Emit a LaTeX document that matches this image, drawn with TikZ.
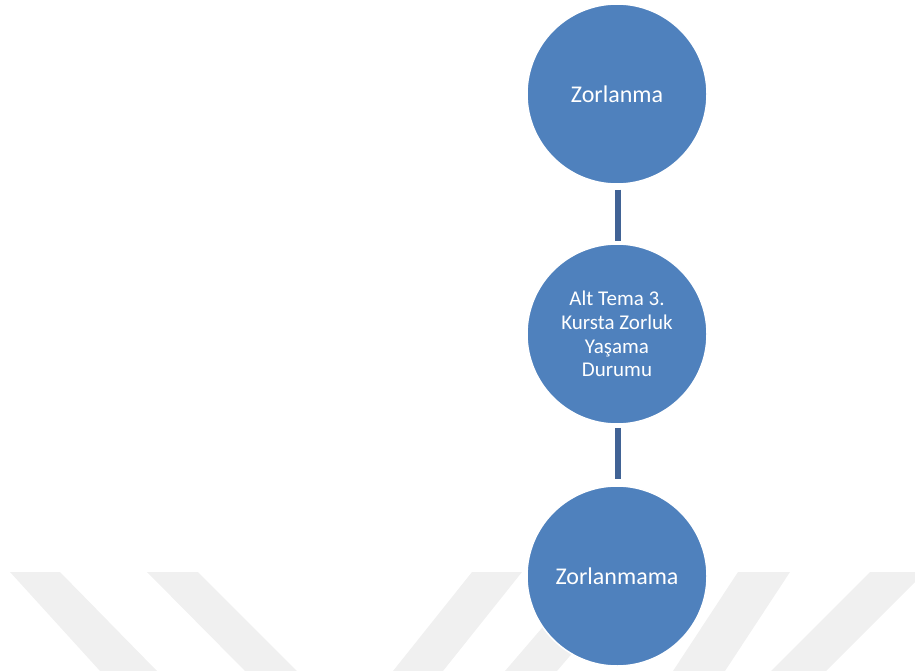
\documentclass[tikz,border=0pt]{standalone}
\usepackage{fontspec}
\setmainfont{Carlito}
\definecolor{cfill}{HTML}{4F81BD}
\definecolor{cline}{HTML}{416395}
\definecolor{wm}{HTML}{F0F0F0}
\begin{document}
\begin{tikzpicture}[x=1pt,y=-1pt,
  bubble/.style={circle,fill=cfill,draw=white,line width=1.5pt,minimum size=180pt,inner sep=0pt,text=white,align=center},
  conn/.style={draw=cline,line width=5.5pt},
  stripe/.style={fill=wm,draw=none}]
\useasboundingbox (0,0) rectangle (915,671);
% watermark stripes
\fill[stripe] (10,572) -- (60,572) -- (157,671) -- (100,671) -- cycle;
\fill[stripe] (147,572) -- (198,572) -- (297,671) -- (245,671) -- cycle;
\fill[stripe] (472,572) -- (522,572) -- (443,671) -- (393,671) -- cycle;
\fill[stripe] (590,572) -- (642,572) -- (557,671) -- (505,671) -- cycle;
\fill[stripe] (738,572) -- (790,572) -- (725,671) -- (673,671) -- cycle;
\fill[stripe] (870,572) -- (925,572) -- (826,671) -- (771,671) -- cycle;
% circles
\node[bubble,font=\fontsize{24}{26}\selectfont] (c1) at (617,94) {Zorlanma};
\node[bubble,font=\fontsize{21}{23.7}\selectfont] (c2) at (617,334) {Alt Tema 3.\\Kursta Zorluk\\Yaşama\\Durumu};
\node[bubble,font=\fontsize{24}{26}\selectfont] (c3) at (617,576) {Zorlanmama};
% connectors
\draw[conn,shorten <=5pt,shorten >=2pt] ([xshift=1pt]c1.south) -- ([xshift=1pt]c2.north);
\draw[conn,shorten <=3pt,shorten >=6pt] ([xshift=1pt]c2.south) -- ([xshift=1pt]c3.north);
\end{tikzpicture}
\end{document}
